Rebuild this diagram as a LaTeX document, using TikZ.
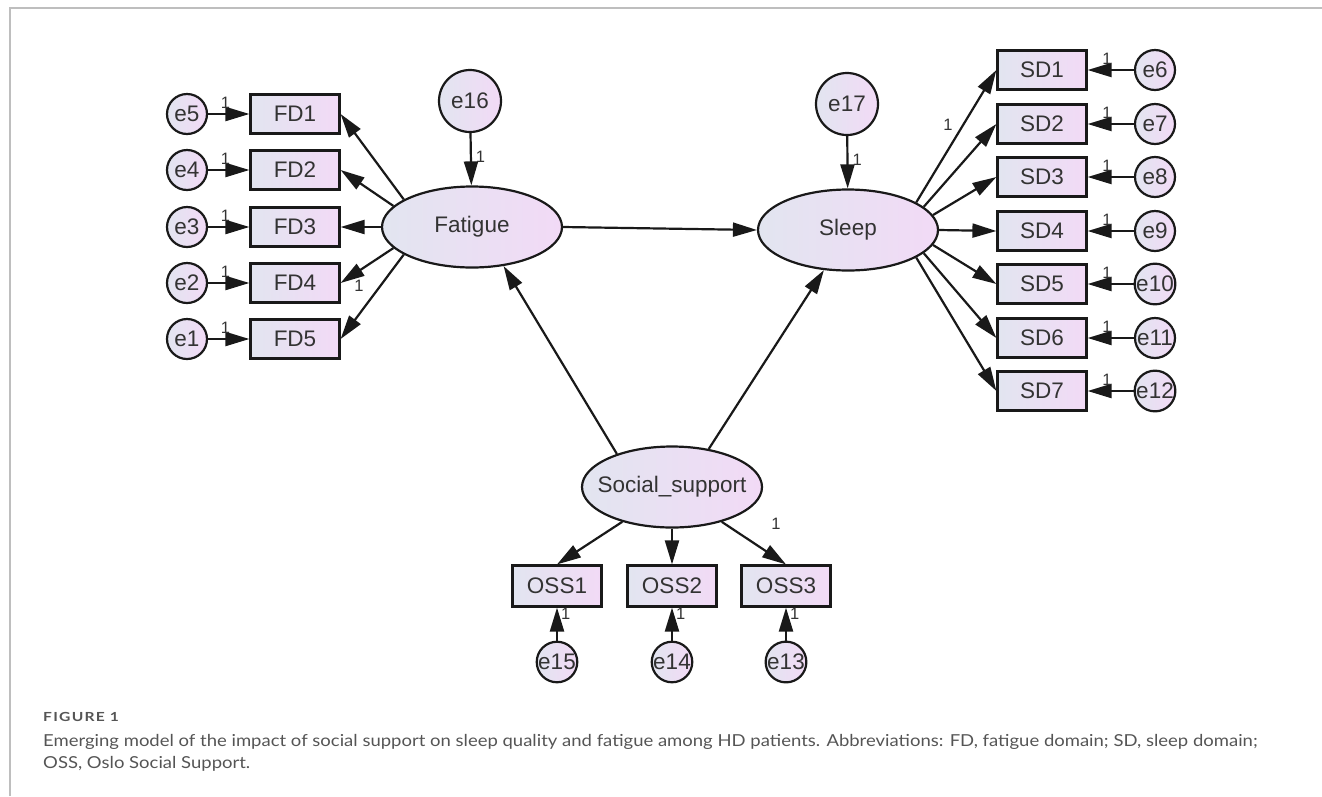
\documentclass[tikz,border=0pt]{standalone}
\usepackage{fontspec}
\setmainfont{Liberation Sans}
\newfontfamily\capfont[FakeStretch=1.12]{Lato}
\newfontfamily\figfont[FakeStretch=1.25,LetterSpace=10]{Lato}
\usetikzlibrary{arrows.meta,shapes.geometric}
\definecolor{fillL}{RGB}{226,229,240}
\definecolor{fillR}{RGB}{242,218,246}
\definecolor{capgray}{RGB}{85,85,85}
\definecolor{framegray}{RGB}{190,190,190}
\begin{document}
\begin{tikzpicture}[x=1pt,y=-1pt,
  base/.style={draw=black!90, line width=2.2pt, left color=fillL, right color=fillR,
    font=\fontsize{22.5}{25}\selectfont, text=black!80, inner sep=0pt},
  obs/.style={base, rectangle, minimum width=89pt, minimum height=39pt},
  lat/.style={base, ellipse, minimum width=180pt, minimum height=81pt},
  err/.style={base, circle, minimum size=40pt},
  bigerr/.style={base, circle, minimum size=62pt},
  conn/.style={draw=black!90, line width=2.2pt, -{Triangle[length=24pt,width=14pt]}},
  one/.style={font=\fontsize{16.5}{16.5}\selectfont, inner sep=0pt, text=black!80},
]
\useasboundingbox (0,0) rectangle (1322,796);
\draw[framegray, line width=1.5pt] (10,796) -- (10,8) -- (1322,8);

% latent variables
\node[lat] (Fatigue) at (472,227) {Fatigue};
\node[lat] (Sleep) at (848,230) {Sleep};
\node[lat] (Social) at (672,487) {\makebox[100pt]{Social\_support}};
\node[bigerr] (e16) at (470,101) {e16};
\node[bigerr] (e17) at (847,104) {e17};
\draw[conn] (e16) -- (Fatigue) node[one, pos=0.45, right=4pt] {1};
\draw[conn] (e17) -- (Sleep) node[one, pos=0.45, right=4pt] {1};

% fatigue indicators
\foreach \i/\e/\y/\a in {1/e5/114/158, 2/e4/170/165, 3/e3/227/180, 4/e2/283/195, 5/e1/339/202} {
  \node[obs] (FD\i) at (295,\y) {FD\i};
  \node[err] (\e) at (187,\y) {\e};
  \draw[conn] (\e) -- (FD\i) node[one, pos=0.42, above=4pt] {1};
  \draw[conn] (Fatigue.\a) -- (FD\i.east);
}
\node[one] (l4) at (359,286) {1};

% sleep indicators
\foreach \i/\e/\y/\a in {1/e6/70/22, 2/e7/124/17, 3/e8/177/10, 4/e9/231/0, 5/e10/284/-10, 6/e11/338/-17, 7/e12/391/-22} {
  \node[obs] (SD\i) at (1042,\y) {SD\i};
  \node[err] (\e) at (1155,\y) {\e};
  \draw[conn] (\e) -- (SD\i) node[one, pos=0.58, above=4pt] {1};
  \draw[conn] (Sleep.\a) -- (SD\i.west);
}
\node[one] (ls1) at (948,125) {1};

% structural paths
\draw[conn] (Fatigue.east) -- (Sleep.west);
\draw[conn] (Social.149) -- (Fatigue.309);
\draw[conn] (Social.46) -- (Sleep.239);

% social support indicators
\foreach \i/\e/\x/\a in {1/e15/557/215, 2/e14/672/270, 3/e13/786/325} {
  \node[obs, minimum height=41pt] (OSS\i) at (\x,586) {OSS\i};
  \node[err] (\e) at (\x,662) {\e};
  \draw[conn] (\e) -- (OSS\i) node[one, pos=0.8, right=3pt] {1};
  \draw[conn] (Social.\a) -- (OSS\i.north);
}
\node[one] (lo3) at (776,524) {1};

% caption
\node[anchor=base west, inner sep=0pt, text=capgray,
  font=\figfont\bfseries\fontsize{12.5}{14}\selectfont] (figlab) at (43,721) {FIGURE 1};
\node[anchor=base west, inner sep=0pt, text=capgray,
  font=\capfont\fontsize{16.5}{22}\selectfont] (cap1) at (43,746)
  {Emerging model of the impact of social support on sleep quality and fatigue among HD patients. Abbreviations: FD, fatigue domain; SD, sleep domain;};
\node[anchor=base west, inner sep=0pt, text=capgray,
  font=\capfont\fontsize{16.5}{22}\selectfont] (cap2) at (43,768)
  {OSS, Oslo Social Support.};
\end{tikzpicture}
\end{document}
